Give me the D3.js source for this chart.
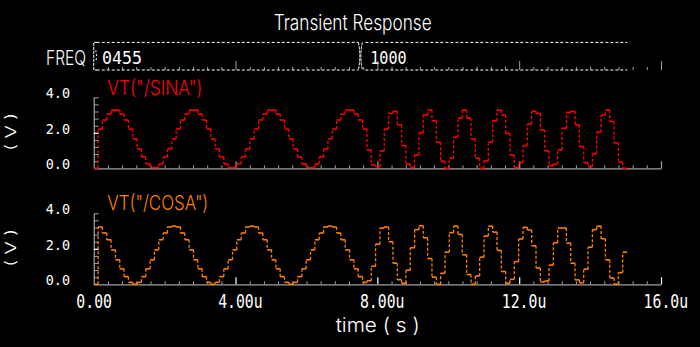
<!DOCTYPE html>
<html><head><meta charset="utf-8">
<script src="https://cdn.jsdelivr.net/npm/d3@7"></script>
<style>
html,body{margin:0;padding:0;background:#000;}
svg{display:block;}
text{font-family:Inter,"DejaVu Sans",sans-serif;font-weight:300;}
text.num{font-family:"DejaVu Sans Mono",monospace;font-weight:normal;}
</style></head><body>
<svg id="chart" width="700" height="347"></svg>
<script>
// ---------- data ----------
const chartTitle = "Transient Response";
const xTickValues = [0, 4, 8, 12, 16];
const xTickLabels = ["0.00", "4.00u", "8.00u", "12.0u", "16.0u"];
const xAxisTitle = "time ( s )";
const yTickValues = [0, 2, 4];
const yTickLabels = ["0.0", "2.0", "4.0"];
const yAxisTitle = "( V )";
const busName = "FREQ";
const busValues = ["0455", "1000"];
const busStarts = [0, 7.52];
const busEnd = 15.05;
const sampleDt = 0.1223;   // µs per DAC step
const simEnd = 15.05;      // µs
const sinaName = 'VT("/SINA")';
const cosaName = 'VT("/COSA")';
const sina = [0, 2.21, 2.72, 3.06, 3.28, 3.28, 3.06, 2.72, 2.21, 1.66,
  1.09, 0.64, 0.25, 0.04, 0.04, 0.25, 0.64, 1.09, 1.66, 2.21,
  2.72, 3.06, 3.28, 3.28, 3.06, 2.72, 2.21, 1.66, 1.09, 0.64,
  0.25, 0.04, 0.04, 0.25, 0.64, 1.09, 1.66, 2.21, 2.72, 3.06,
  3.28, 3.28, 3.06, 2.72, 2.21, 1.66, 1.09, 0.64, 0.25, 0.04,
  0.04, 0.25, 0.64, 1.09, 1.66, 2.21, 2.72, 3.06, 3.28, 3.28,
  3.06, 2.72, 2.21, 1.04, 0.19, 0.09, 0.98, 2.21, 3.09, 3.21,
  2.45, 1.28, 0.25, 0.04, 0.75, 2.00, 3.00, 3.28, 2.68, 1.47,
  0.40, 0, 0.57, 1.75, 2.83, 3.28, 2.83, 1.66, 0.57, 0,
  0.42, 1.47, 2.68, 3.28, 3.00, 1.96, 0.75, 0.04, 0.32, 1.28,
  2.49, 3.21, 3.09, 2.17, 0.98, 0.15, 0.23, 1.04, 2.26, 3.15,
  3.21, 2.45, 1.23, 0.32, 0.09, 0.83, 2.04, 3.00, 3.28, 2.64,
  1.43, 0.36, 0];
const cosa = [0, 3.23, 2.89, 2.51, 1.94, 1.38, 0.87, 0.43, 0.11, 0,
  0.11, 0.43, 0.87, 1.38, 1.94, 2.51, 2.89, 3.23, 3.28, 3.23,
  2.89, 2.51, 1.94, 1.38, 0.87, 0.43, 0.11, 0, 0.11, 0.43,
  0.87, 1.38, 1.94, 2.51, 2.89, 3.23, 3.28, 3.23, 2.89, 2.51,
  1.94, 1.38, 0.87, 0.43, 0.11, 0, 0.11, 0.43, 0.87, 1.38,
  1.94, 2.51, 2.89, 3.23, 3.28, 3.23, 2.89, 2.51, 1.94, 1.38,
  0.87, 0.43, 0.11, 0.20, 1.02, 2.26, 3.17, 3.23, 2.40, 1.19,
  0.26, 0.06, 0.79, 2.06, 3.08, 3.30, 2.62, 1.45, 0.40, 0,
  0.62, 1.81, 2.91, 3.28, 2.81, 1.66, 0.55, 0, 0.47, 1.53,
  2.72, 3.28, 2.94, 1.91, 0.72, 0.06, 0.28, 1.28, 2.55, 3.21,
  3.06, 2.17, 0.92, 0.13, 0.19, 1.08, 2.34, 3.17, 3.17, 2.32,
  1.19, 0.25, 0.09, 0.85, 2.09, 3.08, 3.28, 2.57, 1.38, 0.36,
  0, 0.66, 1.81];

// ---------- style ----------
const AXIS = "#a0a0a0", WHITE = "#ffffff", RED = "#ff0000", ORANGE = "#ff8000";

const svg = d3.select("#chart");
svg.append("rect").attr("width", 700).attr("height", 347).attr("fill", "#000");

const x = d3.scaleLinear().domain([0, 16]).range([93.75, 661]);
const minorX = d3.range(0, 16.0001, 0.4);
const minorY = d3.range(0, 4.0001, 0.4);

function txt(g, str, px, py, fs, w, anchor, fill, cls) {
  return g.append("text").attr("class", cls || null).attr("x", px).attr("y", py)
    .attr("font-size", fs).attr("textLength", w).attr("lengthAdjust", "spacingAndGlyphs")
    .attr("text-anchor", anchor || "start").attr("fill", fill || WHITE).text(str);
}

// title
txt(svg, chartTitle, 273.7, 30.4, 21.5, 158, "start");

// ---------- bus row ----------
const busG = svg.append("g");
const busTop = 42.4, busBot = 70, busMid = (busTop + busBot) / 2;
txt(busG, busName, 46, 64.7, 19.7, 40, "start");
busG.append("g").attr("transform", `translate(0,${busBot})`)
  .call(d3.axisBottom(x).tickValues(minorX.filter(t => t > 0 && xTickValues.indexOf(Math.round(t * 10) / 10) < 0)).tickSize(-3).tickFormat(""))
  .call(g => g.select(".domain").remove())
  .call(g => g.selectAll("line").attr("stroke", AXIS));
busG.append("g").attr("transform", `translate(0,${busBot})`)
  .call(d3.axisBottom(x).tickValues(xTickValues.slice(1)).tickSize(-9).tickFormat(""))
  .call(g => g.select(".domain").remove())
  .call(g => g.selectAll("line").attr("stroke", AXIS));
const busSegs = busValues.map((v, i) => ({ v, t0: busStarts[i], t1: i + 1 < busValues.length ? busStarts[i + 1] : busEnd }));
busSegs.forEach((s, i) => {
  const xa = x(s.t0) + (i === 0 ? 0 : 2), xb = x(s.t1) - (i === busSegs.length - 1 ? 0 : 2);
  [busTop, busBot].forEach(yy => busG.append("line")
    .attr("x1", xa + 3).attr("x2", xb).attr("y1", yy).attr("y2", yy)
    .attr("stroke", WHITE).attr("stroke-dasharray", "3,2"));
  txt(busG, s.v, x(s.t0) + (i === 0 ? 8.3 : 9.8), 63.8, 18, s.v === "1000" ? 36.5 : 40, "start", WHITE, "num");
});
const x0 = x(busStarts[0]);
busG.append("path").attr("d", `M${x0 + 3.5},${busTop}H${x0}V${busBot}H${x0 + 3.5}`)
  .attr("fill", "none").attr("stroke", WHITE).attr("stroke-dasharray", "3,1");
busG.append("path").attr("d", `M${x0 + 2},${busMid - 6}L${x0 + 3},${busMid}L${x0 + 2},${busMid + 6}`)
  .attr("fill", "none").attr("stroke", WHITE).attr("stroke-dasharray", "2,2");
busStarts.slice(1).forEach(t => {
  const xc = x(t);
  busG.append("path").attr("d", `M${xc - 2},${busTop}Q${xc + 1},${busMid} ${xc - 2},${busBot}M${xc + 2},${busTop}Q${xc - 1},${busMid} ${xc + 2},${busBot}`)
    .attr("fill", "none").attr("stroke", WHITE).attr("stroke-dasharray", "3,1");
});

// ---------- plots ----------
function drawPlot(yBase, yTopPx, data, color, name, nameBaseline, majorColor) {
  const y = d3.scaleLinear().domain([0, 4]).range([yBase, yTopPx]);
  const g = svg.append("g");
  g.append("g").attr("transform", `translate(0,${yBase})`)
    .call(d3.axisBottom(x).tickValues(minorX.filter(t => xTickValues.indexOf(Math.round(t * 10) / 10) < 0)).tickSize(-3).tickSizeOuter(0).tickFormat(""))
    .call(a => a.select(".domain").attr("stroke", AXIS).attr("stroke-width", 1.2))
    .call(a => a.selectAll(".tick line").attr("stroke", AXIS));
  g.append("g").attr("transform", `translate(0,${yBase})`)
    .call(d3.axisBottom(x).tickValues(xTickValues.slice(1)).tickSize(-7).tickFormat(""))
    .call(a => a.select(".domain").remove())
    .call(a => a.selectAll(".tick line").attr("stroke", majorColor).attr("stroke-width", 1.2));
  g.append("g").attr("transform", `translate(${x(0)},0)`)
    .call(d3.axisRight(y).tickValues(minorY.filter(v => Math.abs(v - 2) > 0.01 && v > 0.01)).tickSize(5).tickSizeOuter(0).tickFormat(""))
    .call(a => a.select(".domain").attr("stroke", AXIS).attr("stroke-width", 1.2))
    .call(a => a.selectAll(".tick line").attr("stroke", AXIS));
  g.append("g").attr("transform", `translate(${x(0)},0)`)
    .call(d3.axisRight(y).tickValues([2]).tickSize(5).tickFormat(""))
    .call(a => a.select(".domain").remove())
    .call(a => a.selectAll(".tick line").attr("stroke", WHITE).attr("stroke-width", 1.3));
  yTickValues.forEach((v, i) => txt(g, yTickLabels[i], 70, y(v) + 1, 14.5, 24.3, "end", WHITE, "num"));
  g.append("text").attr("transform", `translate(15.5,${(yBase + yTopPx) / 2 - 1}) rotate(-90)`)
    .attr("font-size", 14.7).attr("textLength", 38).attr("lengthAdjust", "spacingAndGlyphs")
    .attr("text-anchor", "middle").attr("fill", WHITE).text(yAxisTitle);
  txt(g, name, 107.3, nameBaseline, 20.6, name.indexOf("COSA") >= 0 ? 101 : 95, "start", color);
  const steps = data.map((v, i) => ({ v, t0: i * sampleDt, t1: Math.min((i + 1) * sampleDt, simEnd), prev: i > 0 ? data[i - 1] : null }));
  const wg = g.append("g");
  wg.selectAll("line.h").data(steps).join("line").attr("class", "h")
    .attr("x1", d => x(d.t0)).attr("x2", d => x(d.t1))
    .attr("y1", d => y(d.v)).attr("y2", d => y(d.v))
    .attr("stroke", color).attr("stroke-width", 1.6);
  wg.selectAll("line.v").data(steps.filter(d => d.prev !== null && d.prev !== d.v)).join("line").attr("class", "v")
    .attr("x1", d => x(d.t0)).attr("x2", d => x(d.t0))
    .attr("y1", d => y(d.prev)).attr("y2", d => y(d.v))
    .attr("stroke", color).attr("stroke-width", 1.3).attr("stroke-dasharray", "3,2");
  return y;
}

drawPlot(168.3, 97.3, sina, RED, sinaName, 95, AXIS);
drawPlot(284.3, 213.3, cosa, ORANGE, cosaName, 210, WHITE);

xTickValues.forEach((t, i) => {
  const s = xTickLabels[i];
  txt(svg, s, x(t) - 17.4, 307.7, 19, s.length * 8.9, "start", WHITE, "num");
});
txt(svg, xAxisTitle, x(8) + 0.3, 332, 20, 84, "middle");
</script>
</body></html>
